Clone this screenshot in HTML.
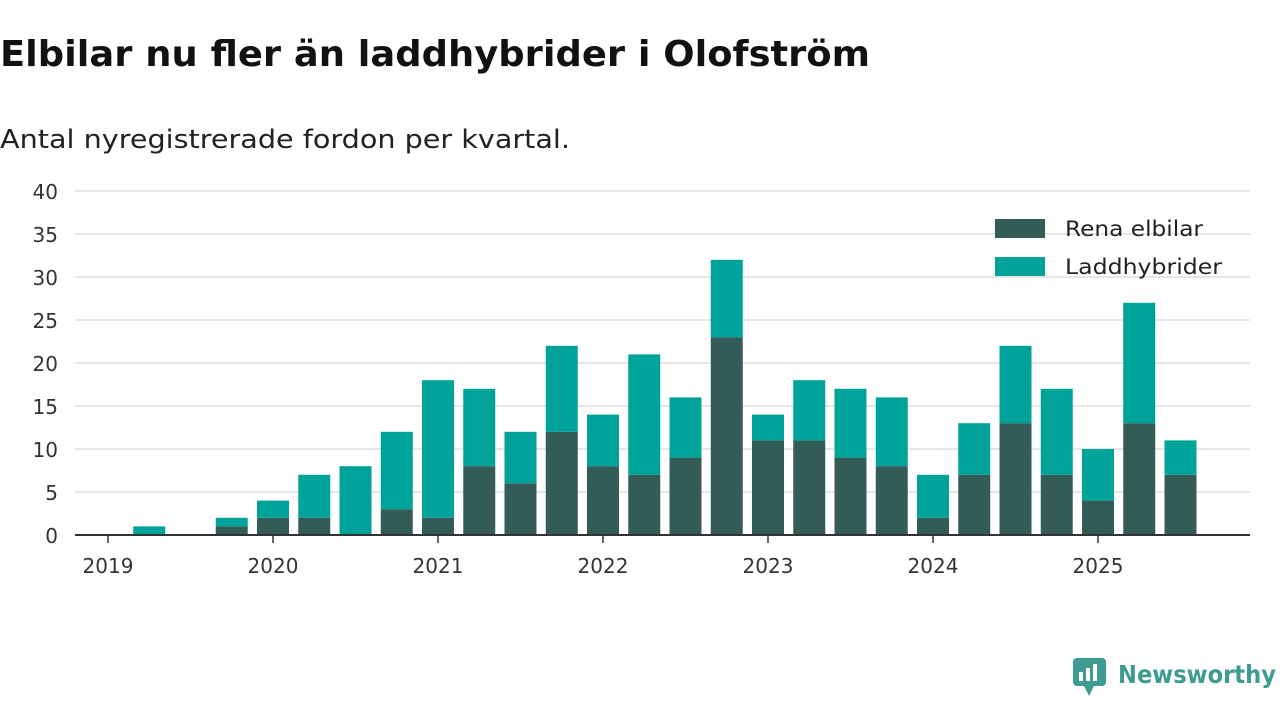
<!DOCTYPE html>
<html><head><meta charset="utf-8"><style>
body{margin:0;background:#fff;width:1280px;height:720px;overflow:hidden;font-family:"DejaVu Sans","Liberation Sans",sans-serif;}
</style></head><body>
<svg width="1280" height="720">
<text x="0" y="66" font-size="36" font-weight="bold" fill="#111" textLength="870" lengthAdjust="spacingAndGlyphs">Elbilar nu fler än laddhybrider i Olofström</text>
<text x="0" y="148" font-size="26" fill="#222" textLength="570" lengthAdjust="spacingAndGlyphs">Antal nyregistrerade fordon per kvartal.</text>
<g id="grid"></g><g id="bars"></g><g id="xaxis"></g>
<g>
<rect x="995" y="219" width="50" height="19" fill="#335c57"/>
<text x="1065" y="236" font-size="21" fill="#222" textLength="138" lengthAdjust="spacingAndGlyphs">Rena elbilar</text>
<rect x="995" y="257" width="50" height="19" fill="#00a39a"/>
<text x="1065" y="274" font-size="21" fill="#222" textLength="157" lengthAdjust="spacingAndGlyphs">Laddhybrider</text>
</g>
<g>
<rect x="1073" y="658" width="33" height="28" rx="4" fill="#3d9b91"/>
<polygon points="1084,686 1094,686 1089,696" fill="#3d9b91"/>
<rect x="1079" y="672" width="4" height="9" fill="#fff"/><rect x="1086" y="668" width="4" height="13" fill="#fff"/><rect x="1093" y="664" width="4" height="17" fill="#fff"/>
<text x="1118" y="683" font-size="25" font-weight="bold" fill="#3d9b91" textLength="158" lengthAdjust="spacingAndGlyphs">Newsworthy</text>
</g>
</svg>
<script>
const categories=["2019Q1","2019Q2","2019Q3","2019Q4","2020Q1","2020Q2","2020Q3","2020Q4","2021Q1","2021Q2","2021Q3","2021Q4","2022Q1","2022Q2","2022Q3","2022Q4","2023Q1","2023Q2","2023Q3","2023Q4","2024Q1","2024Q2","2024Q3","2024Q4","2025Q1","2025Q2","2025Q3"];
const elbilar=[0,0,0,1,2,2,0,3,2,8,6,12,8,7,9,23,11,11,9,8,2,7,13,7,4,13,7];
const laddhybrider=[0,1,0,1,2,5,8,9,16,9,6,10,6,14,7,9,3,7,8,8,5,6,9,10,6,14,4];
const yTicks=[0,5,10,15,20,25,30,35,40];
const yearLabels=["2019","2020","2021","2022","2023","2024","2025"];
const NS="http://www.w3.org/2000/svg";
const y=v=>535-v*8.6;
const x=i=>108+i*41.25;
function mk(t,a,p){const e=document.createElementNS(NS,t);for(const k in a)e.setAttribute(k,a[k]);p.appendChild(e);return e;}
const g=document.getElementById('grid'),b=document.getElementById('bars'),xa=document.getElementById('xaxis');
yTicks.forEach(v=>{
 if(v>0){const l=mk('line',{x1:75,x2:1250,y1:y(v),y2:y(v),stroke:'#ddd','stroke-width':1.5},g);
 
 }
 const t=mk('text',{x:58,y:y(v)+8,'font-size':20,fill:'#333','text-anchor':'end'},g);t.textContent=v;
 
 
});
categories.forEach((c,i)=>{
 const e=elbilar[i],h=laddhybrider[i];
 if(e>0){const r=mk('rect',{x:x(i)-16,y:y(e),width:32,height:e*8.6,fill:'#335c57'},b);
 
 }
 if(h>0){const r=mk('rect',{x:x(i)-16,y:y(e+h),width:32,height:h*8.6,fill:'#00a39a'},b);
 
 }
});
const ax=mk('line',{x1:75,x2:1250,y1:535,y2:535,stroke:'#333','stroke-width':2},xa);


yearLabels.forEach((yr,j)=>{
 const px=x(j*4);
 const tk=mk('line',{x1:px,x2:px,y1:535,y2:543,stroke:'#333','stroke-width':1.5},xa);
 
 
 const t=mk('text',{x:px,y:573,'font-size':20,fill:'#333','text-anchor':'middle'},xa);t.textContent=yr;
 
 
});
</script>
</body></html>
